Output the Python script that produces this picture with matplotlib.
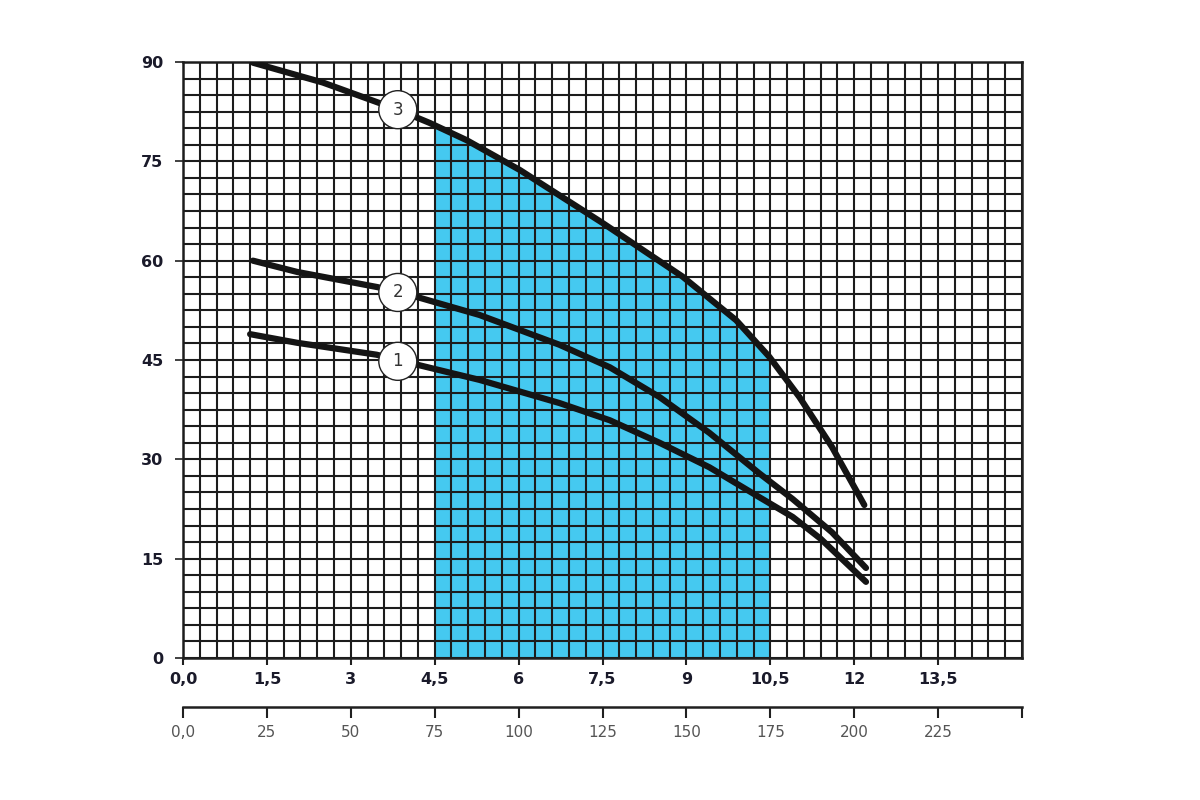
import numpy as np
import matplotlib.pyplot as plt
from matplotlib.patches import Rectangle
from matplotlib.ticker import MultipleLocator

# flow (top scale, m3/h) and head (m)
q1 = [1.2, 2.04, 3.46, 4.23, 5.3, 6.73, 7.63, 8.52, 9.41, 10.3, 10.9, 11.4, 12.21]
h1 = [48.9, 47.6, 45.8, 44.2, 42.0, 38.5, 35.9, 32.5, 28.8, 24.3, 21.3, 18.0, 11.5]

q2 = [1.25, 2.04, 3.48, 4.23, 5.3, 6.73, 7.63, 8.52, 9.41, 10.3, 10.9, 11.6, 12.21]
h2 = [60.0, 58.3, 56.0, 54.4, 51.8, 47.3, 43.9, 39.4, 34.0, 27.9, 24.0, 19.0, 13.6]

q3 = [1.25, 2.5, 3.84, 4.41, 5.07, 6.02, 7.5, 8.93, 9.89, 10.48, 11.02, 11.6, 12.18]
h3 = [89.9, 86.9, 82.8, 80.8, 78.2, 73.7, 65.7, 57.6, 51.0, 45.5, 39.4, 31.9, 23.1]

curve_names = ['1', '2', '3']
label_q = [3.84, 3.84, 3.84]
label_h = [44.8, 55.2, 82.8]

work_range = (4.5, 10.5)  # shaded working zone

x_ticks = [0, 1.5, 3, 4.5, 6, 7.5, 9, 10.5, 12, 13.5]
x_labels = ['0,0', '1,5', '3', '4,5', '6', '7,5', '9', '10,5', '12', '13,5']
y_ticks = [0, 15, 30, 45, 60, 75, 90]
lpm_ticks = [0, 25, 50, 75, 100, 125, 150, 175, 200, 225, 250]
lpm_labels = ['0,0', '25', '50', '75', '100', '125', '150', '175', '200', '225', '']

fig = plt.figure(figsize=(12, 8), dpi=100)
ax = fig.add_axes([0.1525, 0.1775, 0.6992, 0.745])

ax.set_xlim(0, 15)
ax.set_ylim(0, 90)

# cyan zone under curve 3
fill = ax.fill_between(q3, h3, 0, color='#45c9f0', lw=0, zorder=1)
clip = Rectangle((work_range[0], 0), work_range[1] - work_range[0], 90,
                 transform=ax.transData)
fill.set_clip_path(clip)

# dense grid
ax.xaxis.set_major_locator(MultipleLocator(1.5))
ax.xaxis.set_minor_locator(MultipleLocator(0.3))
ax.yaxis.set_major_locator(MultipleLocator(15))
ax.yaxis.set_minor_locator(MultipleLocator(2.5))
ax.set_axisbelow(False)
ax.grid(which='both', color='#1c1c1c', lw=1.5, zorder=2)
ax.tick_params(which='minor', length=0)

for q, h in [(q1, h1), (q2, h2), (q3, h3)]:
    ax.plot(q, h, color='#141414', lw=4.5, solid_capstyle='round',
            solid_joinstyle='round', zorder=3)

for name, q, h in zip(curve_names, label_q, label_h):
    ax.text(q, h, name, ha='center', va='center', fontsize=12, color='#333333',
            zorder=5, bbox=dict(boxstyle='circle,pad=0.6', fc='white',
                                ec='#222222', lw=1.0))

for s in ax.spines.values():
    s.set_color('#202020')
    s.set_linewidth(1.8)

ax.set_xticks(x_ticks)
ax.set_xticklabels(x_labels)
ax.set_yticks(y_ticks)
ax.tick_params(axis='x', which='major', length=5, width=1.5, pad=5,
               labelsize=11.5, colors='#202020')
ax.tick_params(axis='y', which='major', length=6, width=1.2, pad=8,
               labelsize=11.5, colors='#202020')
for t in ax.get_xticklabels() + ax.get_yticklabels():
    t.set_fontweight('bold')
    t.set_color('#1a1a2a')

# second flow scale in l/min
sec = ax.secondary_xaxis(-0.082, functions=(lambda x: x * 50 / 3,
                                            lambda x: x * 3 / 50))
sec.set_xticks(lpm_ticks)
sec.set_xticklabels(lpm_labels)
sec.spines['bottom'].set_linewidth(1.8)
sec.spines['bottom'].set_color('#202020')
sec.tick_params(axis='x', length=8, width=1.5, pad=5, labelsize=11,
                colors='#202020', labelcolor='#555555')

fig.savefig('out.png', dpi=100)
